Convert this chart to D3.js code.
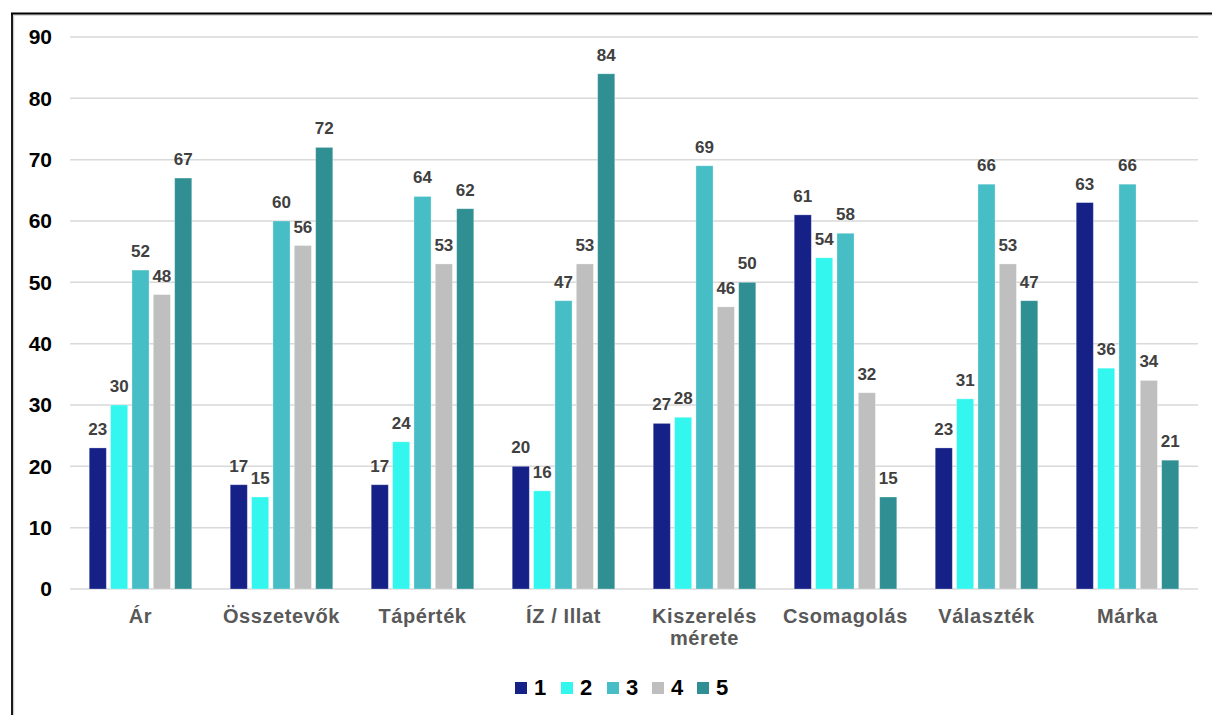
<!DOCTYPE html>
<html>
<head>
<meta charset="utf-8">
<script src="https://cdn.jsdelivr.net/npm/d3@7"></script>
<style>
  html, body { margin: 0; padding: 0; background: #fff; }
  svg { display: block; font-family: "Liberation Sans", Arial, sans-serif; }
</style>
</head>
<body>
<svg id="chart" width="1212" height="715"></svg>
<script>
// Rating counts per attribute (ratings 1–5)
const categories = ["Ár", "Összetevők", "Tápérték", "ÍZ / Illat", "Kiszerelés mérete", "Csomagolás", "Választék", "Márka"];
const seriesNames = ["1", "2", "3", "4", "5"];
const rating1 = [23, 17, 17, 20, 27, 61, 23, 63];
const rating2 = [30, 15, 24, 16, 28, 54, 31, 36];
const rating3 = [52, 60, 64, 47, 69, 58, 66, 66];
const rating4 = [48, 56, 53, 53, 46, 32, 53, 34];
const rating5 = [67, 72, 62, 84, 50, 15, 47, 21];
const yTicks = [0, 10, 20, 30, 40, 50, 60, 70, 80, 90];
const colors = ["#162187", "#33F7EE", "#47BDC6", "#BFBFBF", "#2F8F93"];

const series = [rating1, rating2, rating3, rating4, rating5];

const svg = d3.select("#chart");
const margin = { left: 70, right: 14, top: 37, bottom: 126 };
const W = 1212, H = 715;

// Frame lines (top and left) with a soft shadow
svg.append("line").attr("x1", 13).attr("x2", W).attr("y1", 15).attr("y2", 15)
  .attr("stroke", "#cfcfcf").attr("stroke-width", 1.5);
svg.append("line").attr("x1", 13.5).attr("x2", 13.5).attr("y1", 15).attr("y2", H)
  .attr("stroke", "#cfcfcf").attr("stroke-width", 1.5);
svg.append("line").attr("x1", 11).attr("x2", W).attr("y1", 13.5).attr("y2", 13.5)
  .attr("stroke", "#000").attr("stroke-width", 2.2);
svg.append("line").attr("x1", 12).attr("x2", 12).attr("y1", 13).attr("y2", H)
  .attr("stroke", "#000").attr("stroke-width", 1.8);

const x0 = d3.scaleBand().domain(categories)
  .range([margin.left, W - margin.right]).paddingInner(0).paddingOuter(0);
const x1 = d3.scaleBand().domain(seriesNames)
  .range([0, x0.bandwidth()]).paddingInner(0.2).paddingOuter(0.9);
const y = d3.scaleLinear().domain([0, 90]).range([H - margin.bottom, margin.top]);

// Gridlines
svg.append("g").selectAll("line").data(yTicks).join("line")
  .attr("x1", margin.left).attr("x2", W - margin.right)
  .attr("y1", d => y(d)).attr("y2", d => y(d))
  .attr("stroke", "#d9d9d9").attr("stroke-width", 1.5);

// Y axis labels
const yAxis = d3.axisLeft(y).tickValues(yTicks).tickSize(0).tickPadding(0);
const gy = svg.append("g").attr("transform", "translate(52,0)").call(yAxis);
gy.select(".domain").remove();
gy.selectAll("text").attr("font-size", 21).attr("font-weight", "bold")
  .attr("fill", "#000").attr("font-family", "Liberation Sans, Arial, sans-serif");

// Bars
const groups = svg.append("g").selectAll("g").data(categories).join("g")
  .attr("transform", d => `translate(${x0(d)},0)`);

groups.each(function(cat, ci) {
  const g = d3.select(this);
  const rows = series.map((s, si) => ({ key: seriesNames[si], v: s[ci], c: colors[si] }));
  g.selectAll("rect").data(rows).join("rect")
    .attr("x", d => x1(d.key)).attr("width", x1.bandwidth())
    .attr("y", d => y(d.v)).attr("height", d => y(0) - y(d.v))
    .attr("fill", d => d.c)
    .attr("stroke", "rgba(255,255,255,0.35)").attr("stroke-width", 0.8);
  g.selectAll("text").data(rows).join("text")
    .attr("x", d => x1(d.key) + x1.bandwidth() / 2)
    .attr("y", d => y(d.v) - 13)
    .attr("text-anchor", "middle")
    .attr("font-size", 17).attr("font-weight", "bold").attr("fill", "#404040")
    .text(d => d.v);
});

// Category labels
const xl = svg.append("g").selectAll("text").data(categories).join("text")
  .attr("x", d => x0(d) + x0.bandwidth() / 2)
  .attr("y", 623)
  .attr("text-anchor", "middle")
  .attr("font-size", 20).attr("font-weight", "bold").attr("fill", "#595959")
  .attr("letter-spacing", 0.6);
xl.each(function(d) {
  const t = d3.select(this);
  const parts = d === "Kiszerelés mérete" ? ["Kiszerelés", "mérete"] : [d];
  parts.forEach((p, i) => {
    t.append("tspan").attr("x", x0(d) + x0.bandwidth() / 2)
      .attr("dy", i === 0 ? 0 : 22).text(p);
  });
});

// Legend
const legendX = [515, 561, 607, 652, 697];
const lg = svg.append("g").selectAll("g").data(seriesNames).join("g")
  .attr("transform", (d, i) => `translate(${legendX[i]},682)`);
lg.append("rect").attr("width", 12).attr("height", 12).attr("fill", (d, i) => colors[i]);
lg.append("text").attr("x", 19).attr("y", 13)
  .attr("font-size", 22).attr("font-weight", "bold").attr("fill", "#000")
  .text(d => d);
</script>
</body>
</html>
